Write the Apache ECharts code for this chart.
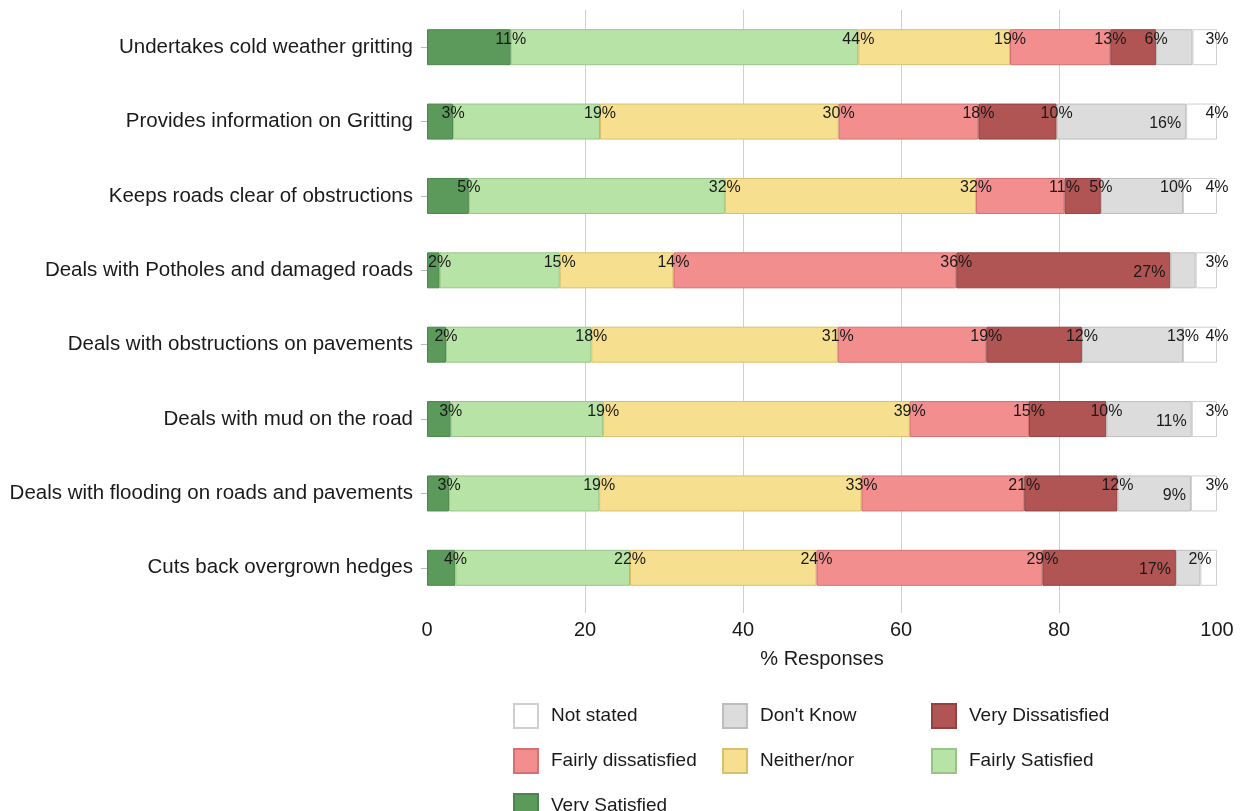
<!DOCTYPE html>
<html>
<head>
<meta charset="utf-8">
<script src="https://cdn.jsdelivr.net/npm/echarts@6/dist/echarts.min.js"></script>
<style>
html,body{margin:0;padding:0;background:#fff;}
#chart{width:1243px;height:811px;}
</style>
</head>
<body>
<div id="chart"></div>
<script>
// ---- Data ----
var categories = [
  'Undertakes cold weather gritting',
  'Provides information on Gritting',
  'Keeps roads clear of obstructions',
  'Deals with Potholes and damaged roads',
  'Deals with obstructions on pavements',
  'Deals with mud on the road',
  'Deals with flooding on roads and pavements',
  'Cuts back overgrown hedges'
];
var xTicks = [0, 20, 40, 60, 80, 100];

var verySatisfied       = [10.6, 3.3, 5.3, 1.6, 2.4, 3.0, 2.8, 3.6];
var fairlySatisfied     = [44.0, 18.6, 32.4, 15.2, 18.4, 19.3, 19.0, 22.1];
var neitherNor          = [19.2, 30.2, 31.8, 14.4, 31.2, 38.8, 33.2, 23.6];
var fairlyDissatisfied  = [12.7, 17.7, 11.2, 35.8, 18.8, 15.1, 20.6, 28.6];
var veryDissatisfied    = [5.8, 9.9, 4.6, 27.1, 12.1, 9.8, 11.8, 16.9];
var dontKnow            = [4.6, 16.4, 10.4, 3.2, 12.8, 10.8, 9.3, 3.1];
var notStated           = [3.1, 3.9, 4.3, 2.7, 4.3, 3.2, 3.3, 2.1];

// ---- Label placement tweaks (style only) ----
// 'down' = label moved lower inside bar end, 'hide' = no label, number = x offset
var labelTweaks = {
  'Very Dissatisfied': {3: 'down', 7: 'down'},
  "Don't Know": {0: 'hide', 1: 'down', 2: -7, 3: 'hide', 5: 'down', 6: 'down', 7: 'hide'},
  'Not stated': {7: -17}
};

var seriesDefs = [
  {name: 'Very Satisfied', data: verySatisfied, color: '#5B9A5B', border: '#4C864C'},
  {name: 'Fairly Satisfied', data: fairlySatisfied, color: '#B8E3A6', border: '#98C488'},
  {name: 'Neither/nor', data: neitherNor, color: '#F6E08F', border: '#D8BF6E'},
  {name: 'Fairly dissatisfied', data: fairlyDissatisfied, color: '#F28E8E', border: '#D37070'},
  {name: 'Very Dissatisfied', data: veryDissatisfied, color: '#B05454', border: '#934242'},
  {name: "Don't Know", data: dontKnow, color: '#DCDCDC', border: '#BEBEBE'},
  {name: 'Not stated', data: notStated, color: '#FFFFFF', border: '#CFCFCF'}
];

var FONT = '"Liberation Sans", Arial, sans-serif';
var TEXT = '#1a1a1a';

var series = seriesDefs.map(function (s) {
  var tw = labelTweaks[s.name] || {};
  return {
    name: s.name,
    type: 'bar',
    stack: 'total',
    barWidth: 36,
    itemStyle: {color: s.color, borderColor: s.border, borderWidth: 1},
    emphasis: {disabled: true},
    label: {
      show: true,
      position: ['100%', '28%'],
      align: 'center',
      verticalAlign: 'middle',
      fontFamily: FONT,
      fontSize: 16,
      color: TEXT,
      formatter: function (p) { return Math.round(p.value) + '%'; }
    },
    data: s.data.map(function (v, i) {
      var t = tw[i];
      var item = {value: v};
      if (t === 'hide') {
        item.label = {show: false};
      } else if (t === 'down') {
        item.label = {position: ['100%', '56%'], align: 'right', offset: [-5, 0]};
      } else if (typeof t === 'number') {
        item.label = {offset: [t, 0]};
      }
      return item;
    })
  };
});

var legendCommon = {
  orient: 'vertical',
  icon: 'rect',
  itemWidth: 24,
  itemHeight: 24,
  itemGap: 19,
  top: 703,
  height: 140,
  padding: 0,
  selectedMode: false,
  textStyle: {fontFamily: FONT, fontSize: 19, color: TEXT, padding: [0, 0, 0, 8]}
};

var option = {
  animation: false,
  backgroundColor: '#fff',
  grid: {left: 427, right: 26, top: 10, bottom: 206, containLabel: false},
  legend: [
    Object.assign({}, legendCommon, {left: 513, data: ['Not stated', 'Fairly dissatisfied', 'Very Satisfied']}),
    Object.assign({}, legendCommon, {left: 722, data: ["Don't Know", 'Neither/nor']}),
    Object.assign({}, legendCommon, {left: 931, data: ['Very Dissatisfied', 'Fairly Satisfied']})
  ],
  xAxis: {
    type: 'value',
    min: xTicks[0],
    max: xTicks[xTicks.length - 1],
    interval: xTicks[1] - xTicks[0],
    name: '% Responses',
    nameLocation: 'middle',
    nameGap: 44,
    nameTextStyle: {fontFamily: FONT, fontSize: 20, color: TEXT},
    axisLine: {show: false},
    axisTick: {show: true, length: 8, lineStyle: {color: '#cccccc'}, customValues: xTicks.slice(1, -1)},
    axisLabel: {fontFamily: FONT, fontSize: 20, color: TEXT, margin: 15},
    splitLine: {show: true, lineStyle: {color: '#d0d0d0', width: 1}}
  },
  yAxis: {
    type: 'category',
    inverse: true,
    data: categories,
    axisLine: {show: false},
    axisTick: {show: true, alignWithLabel: true, length: 6, lineStyle: {color: '#bbbbbb'}},
    axisLabel: {fontFamily: FONT, fontSize: 20.5, color: TEXT, margin: 14},
    splitLine: {show: false}
  },
  series: series
};

var chart = echarts.init(document.getElementById('chart'), null, {renderer: 'canvas'});
chart.setOption(option);
</script>
</body>
</html>
